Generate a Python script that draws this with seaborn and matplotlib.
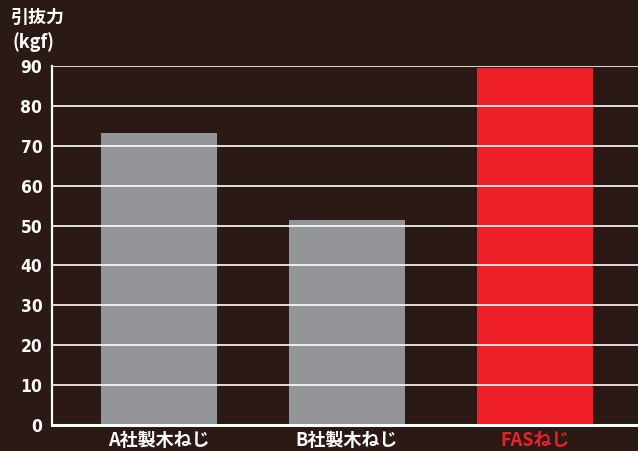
import matplotlib
matplotlib.use('Agg')
import matplotlib.pyplot as plt
import pandas as pd
import seaborn as sns

CATEGORIES = ['A社製木ねじ', 'B社製木ねじ', 'FASねじ']
PULL_FORCE = [73.2, 51.3, 89.4]
BAR_COLORS = ['#939598', '#939598', '#ee1f26']
LABEL_COLORS = ['white', 'white', '#ee1f26']
Y_TICKS = [0, 10, 20, 30, 40, 50, 60, 70, 80, 90]

BG = '#2a1914'

sns.set_theme(style='white')
plt.rcParams['font.family'] = ['Noto Sans CJK JP', 'DejaVu Sans']

df = pd.DataFrame({'name': CATEGORIES, 'value': PULL_FORCE})

fig = plt.figure(figsize=(6.38, 4.51), dpi=100)
fig.patch.set_facecolor(BG)
ax = fig.add_axes([52 / 638, 26 / 451, 1 - 52 / 638, (425 - 66) / 451])
ax.set_facecolor(BG)

sns.barplot(data=df, x='name', y='value', hue='name', palette=BAR_COLORS,
            width=0.617, legend=False, saturation=1, ax=ax, zorder=1,
            edgecolor='none', linewidth=0)

ax.set_xlim(-0.57, 2.55)
ax.set_ylim(0, 90)
ax.set_yticks(Y_TICKS)
for y in Y_TICKS[1:]:
    ax.axhline(y, color='white', lw=1.4, alpha=0.85, zorder=3)

for side in ('top', 'right'):
    ax.spines[side].set_visible(False)
ax.spines['left'].set_color('white')
ax.spines['left'].set_linewidth(1.6)
ax.spines['bottom'].set_color('white')
ax.spines['bottom'].set_linewidth(2.2)
ax.spines['bottom'].set_zorder(4)

ax.set_xlabel('')
ax.set_ylabel('')
ax.tick_params(axis='y', length=0, pad=7, colors='white')
ax.tick_params(axis='x', length=0, pad=4)
for lab in ax.get_yticklabels():
    lab.set_fontfamily(['DejaVu Sans'])
    lab.set_fontstretch('condensed')
    lab.set_fontweight('bold')
    lab.set_fontsize(12.5)
ax.set_xticks(range(len(CATEGORIES)))
ax.set_xticklabels(CATEGORIES, fontsize=13, fontweight='bold')
for lab, c in zip(ax.get_xticklabels(), LABEL_COLORS):
    lab.set_color(c)

fig.text(10 / 638, 1 - 17 / 451, '引抜力', color='white', fontsize=13,
         fontweight='bold', va='center', ha='left')
fig.text(12 / 638, 1 - 42 / 451, '(kgf)', color='white', fontsize=13,
         fontweight='bold', va='center', ha='left')

fig.savefig('out.png', dpi=100, facecolor=BG)
